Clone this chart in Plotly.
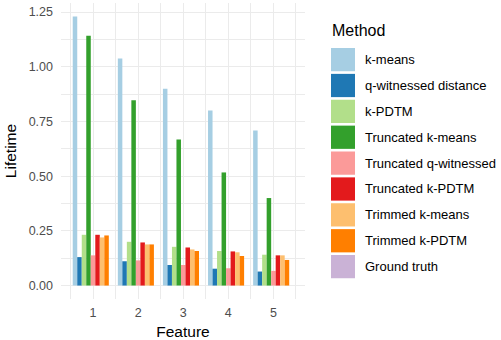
import plotly.graph_objects as go

features = [1, 2, 3, 4, 5]
feature_labels = ["1", "2", "3", "4", "5"]
methods = ["k-means", "q-witnessed distance", "k-PDTM", "Truncated k-means",
           "Truncated q-witnessed", "Truncated k-PDTM", "Trimmed k-means",
           "Trimmed k-PDTM", "Ground truth"]
colors = ["#A6CEE3", "#1F78B4", "#B2DF8A", "#33A02C", "#FB9A99",
          "#E31A1C", "#FDBF6F", "#FF7F00", "#CAB2D6"]

kmeans = [1.230, 1.038, 0.900, 0.800, 0.709]
qwit = [0.130, 0.111, 0.094, 0.077, 0.064]
kpdtm = [0.232, 0.200, 0.177, 0.158, 0.141]
trunc_kmeans = [1.142, 0.847, 0.668, 0.517, 0.400]
trunc_qwit = [0.138, 0.115, 0.094, 0.079, 0.067]
trunc_kpdtm = [0.232, 0.197, 0.174, 0.156, 0.138]
trim_kmeans = [0.220, 0.188, 0.165, 0.152, 0.138]
trim_kpdtm = [0.229, 0.188, 0.158, 0.135, 0.117]
ground_truth = [0.0, 0.0, 0.0, 0.0, 0.0]

series = [kmeans, qwit, kpdtm, trunc_kmeans, trunc_qwit, trunc_kpdtm,
          trim_kmeans, trim_kpdtm, ground_truth]

y_ticks = [0, 0.25, 0.5, 0.75, 1.0, 1.25]
y_tick_text = ["0.00", "0.25", "0.50", "0.75", "1.00", "1.25"]

W, H = 501, 340
ML, MR, MT, MB = 61, 196, 3, 39
PW = W - ML - MR
PH = H - MT - MB
FONT = "Liberation Sans, Arial"

fig = go.Figure()
for name, vals, col in zip(methods, series, colors):
    fig.add_trace(go.Bar(x=features, y=vals, name=name,
                         marker=dict(color=col, line=dict(width=0)),
                         showlegend=False))

def px_x(p):
    return (p - ML) / PW

def px_y(p):
    return 1 - (p - MT) / PH

shapes = []
annotations = []
# legend title
annotations.append(dict(text="Method", xref="paper", yref="paper",
                        x=px_x(330), y=px_y(31), xanchor="left", yanchor="middle",
                        showarrow=False,
                        font=dict(family=FONT, size=16, color="#000000")))
for i, (name, col) in enumerate(zip(methods, colors)):
    top = 48.3 + i * 26.05
    shapes.append(dict(type="rect", xref="paper", yref="paper",
                       x0=px_x(331), x1=px_x(355), y0=px_y(top + 23.4), y1=px_y(top),
                       fillcolor=col, line=dict(width=0), layer="above"))
    annotations.append(dict(text=name, xref="paper", yref="paper",
                            x=px_x(363), y=px_y(top + 11.7), xanchor="left", yanchor="middle",
                            showarrow=False,
                            font=dict(family=FONT, size=13, color="#000000")))

fig.update_layout(
    width=W, height=H,
    margin=dict(l=ML, r=MR, t=MT, b=MB, pad=0),
    paper_bgcolor="white", plot_bgcolor="white",
    barmode="group", bargap=0.1, bargroupgap=0,
    font=dict(family=FONT, size=12.5, color="#4D4D4D"),
    shapes=shapes, annotations=annotations,
    xaxis=dict(range=[0.29, 5.7], tickmode="array", tickvals=features, ticktext=feature_labels,
               showgrid=True, gridcolor="#EBEBEB", gridwidth=1.1,
               minor=dict(tick0=0.5, dtick=1, showgrid=True, gridcolor="#EBEBEB", gridwidth=0.55),
               zeroline=False, showline=False, ticks="", ticklabelstandoff=4,
               tickfont=dict(size=12.5, color="#4D4D4D"),
               title=dict(text="Feature", standoff=7,
                          font=dict(size=15.5, color="#000000"))),
    yaxis=dict(range=[-0.0615, 1.2915], tickmode="array", tickvals=y_ticks, ticktext=y_tick_text,
               showgrid=True, gridcolor="#EBEBEB", gridwidth=1.1,
               minor=dict(tick0=0.125, dtick=0.25, showgrid=True, gridcolor="#EBEBEB", gridwidth=0.55),
               zeroline=False, showline=False, ticks="", ticklabelstandoff=7,
               tickfont=dict(size=12.5, color="#4D4D4D"),
               title=dict(text="Lifetime", standoff=8,
                          font=dict(size=15.5, color="#000000"))),
)

fig.write_html("out.html")
